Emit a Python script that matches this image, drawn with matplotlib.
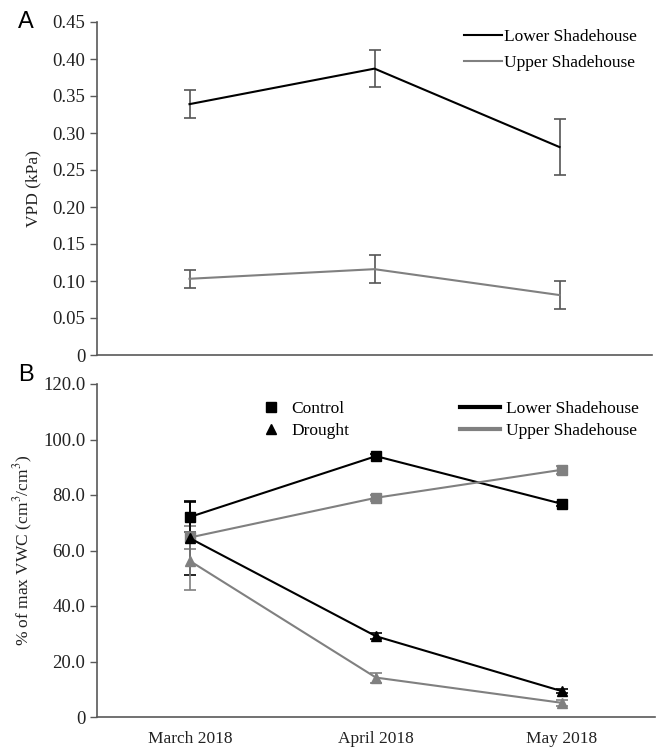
import matplotlib
matplotlib.use("Agg")
import matplotlib.pyplot as plt
from matplotlib.lines import Line2D
import numpy as np

months = ["March 2018", "April 2018", "May 2018"]

# Panel A: VPD (kPa)
vpd_lower = [0.339, 0.387, 0.281]
vpd_lower_err = [0.019, 0.025, 0.038]
vpd_upper = [0.103, 0.116, 0.081]
vpd_upper_err = [0.012, 0.019, 0.019]

# Panel B: % of max VWC
ctrl_lower = [72.1, 94.0, 76.8]
ctrl_lower_err = [5.5, 0.8, 0.8]
ctrl_upper = [64.7, 79.0, 89.1]
ctrl_upper_err = [4.0, 1.0, 1.5]
dro_lower = [64.4, 29.1, 9.3]
dro_lower_err = [13.3, 1.0, 0.8]
dro_upper = [56.2, 14.2, 5.1]
dro_upper_err = [10.5, 1.8, 1.0]

plt.rcParams['font.family'] = ['Liberation Serif', 'DejaVu Serif']
plt.rcParams['mathtext.fontset'] = 'stix'

W, H = 659, 747
fig = plt.figure(figsize=(W / 100, H / 100), dpi=100)

AX_COL = '#595959'
GREY = '#808080'
FS = 12.5
YFS = 13.5

def frac(x0, y0, x1, y1):
    return [x0 / W, 1 - y1 / H, (x1 - x0) / W, (y1 - y0) / H]

axA = fig.add_axes(frac(97, 22, 652, 355))
axB = fig.add_axes(frac(97, 384, 655, 717))

x = np.arange(len(months))

for ax in (axA, axB):
    for s in ('top', 'right'):
        ax.spines[s].set_visible(False)
    for s in ('left', 'bottom'):
        ax.spines[s].set_color(AX_COL)
        ax.spines[s].set_linewidth(1.2)
    ax.tick_params(axis='y', colors=AX_COL, labelcolor='#222222', labelsize=YFS,
                   length=5, width=1.0, direction='out')
    ax.tick_params(axis='x', length=0, labelsize=FS, labelcolor='#222222')
    ax.set_xlim(-0.5, 2.5)

# Panel A
axA.errorbar(x, vpd_lower, yerr=vpd_lower_err, color='black', lw=1.5,
             ecolor='#555555', elinewidth=1.2, capsize=4, capthick=1.2)
axA.errorbar(x, vpd_upper, yerr=vpd_upper_err, color=GREY, lw=1.5,
             ecolor='#555555', elinewidth=1.2, capsize=4, capthick=1.2)
axA.set_ylim(0, 0.45)
yt = np.arange(0, 0.451, 0.05)
axA.set_yticks(yt)
axA.set_yticklabels(['0'] + [f'{v:.2f}' for v in yt[1:]])
axA.set_xticks([])
axA.set_ylabel('VPD (kPa)', fontsize=FS, color='#222222', labelpad=8)
legA = [Line2D([], [], color='black', lw=1.5),
        Line2D([], [], color=GREY, lw=1.5)]
axA.legend(legA, ['Lower Shadehouse', 'Upper Shadehouse'], frameon=False,
           fontsize=FS, loc='upper right', bbox_to_anchor=(1.0, 1.025),
           handlelength=2.2, handletextpad=0.1, labelspacing=0.55)
fig.text(18 / W, 1 - 22 / H, 'A', fontsize=17, family='Liberation Sans', va='center')

# Panel B
ms = 7
eb = dict(elinewidth=1.2, capsize=4, capthick=1.2, lw=1.5)
axB.errorbar(x, ctrl_lower, yerr=ctrl_lower_err, color='black', marker='s', ms=ms, ecolor='black', **eb)
axB.errorbar(x, ctrl_upper, yerr=ctrl_upper_err, color=GREY, marker='s', ms=ms, ecolor=GREY, **eb)
axB.errorbar(x, dro_lower, yerr=dro_lower_err, color='black', marker='^', ms=ms, ecolor='black', **eb)
axB.errorbar(x, dro_upper, yerr=dro_upper_err, color=GREY, marker='^', ms=ms, ecolor=GREY, **eb)
axB.set_ylim(0, 120)
ytb = np.arange(0, 121, 20)
axB.set_yticks(ytb)
axB.set_yticklabels(['0'] + [f'{v:.1f}' for v in ytb[1:]])
axB.set_xticks(x)
axB.set_xticklabels(months)
axB.tick_params(axis='x', pad=10)
axB.set_ylabel(r'% of max VWC (cm$^3$/cm$^3$)', fontsize=FS, color='#222222', labelpad=6)

h1 = [Line2D([], [], color='black', marker='s', ls='none', ms=7),
      Line2D([], [], color='black', marker='^', ls='none', ms=7)]
l1 = axB.legend(h1, ['Control', 'Drought'], frameon=False, fontsize=FS,
                loc='upper left', bbox_to_anchor=(0.265, 0.995),
                handlelength=1.2, handletextpad=0.6, labelspacing=0.3)
axB.add_artist(l1)
h2 = [Line2D([], [], color='black', lw=3),
      Line2D([], [], color=GREY, lw=3)]
axB.legend(h2, ['Lower Shadehouse', 'Upper Shadehouse'], frameon=False,
           fontsize=FS, loc='upper right', bbox_to_anchor=(1.0, 0.995),
           handlelength=2.3, handletextpad=0.4, labelspacing=0.3)
fig.text(18 / W, 1 - 375 / H, 'B', fontsize=17, family='Liberation Sans', va='center')

fig.savefig('out.png', dpi=100)
